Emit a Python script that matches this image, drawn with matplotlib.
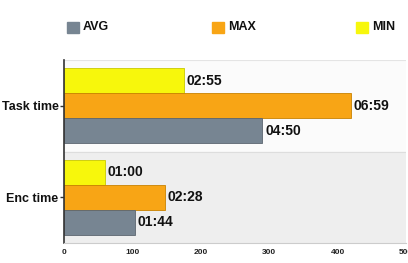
import matplotlib.pyplot as plt
import numpy as np

plt.rcParams['font.family'] = ['Liberation Sans', 'DejaVu Sans']

categories = ['Enc time', 'Task time']
avg_sec = [104, 290]
max_sec = [148, 419]
min_sec = [60, 175]
avg_labels = ['01:44', '04:50']
max_labels = ['02:28', '06:59']
min_labels = ['01:00', '02:55']
x_ticks = [0, 100, 200, 300, 400, 500]

fig = plt.figure(figsize=(4.08, 2.63), dpi=100)
ax = fig.add_axes([64 / 408, 20 / 263, 342 / 408, 183 / 263])

# alternating background bands
ax.axhspan(0.5, 1.5, color='#fbfbfb', zorder=0)
ax.axhspan(-0.5, 0.5, color='#eeeeee', zorder=0)
ax.axhline(0.5, color='#dddddd', linewidth=0.8, zorder=1)
ax.axhline(1.5, color='#e4e4e4', linewidth=0.8, zorder=1)

y = np.arange(len(categories))
h = 0.273

series = [
    (min_sec, min_labels, y + h, '#f7f70c', '#c9c900', 'MIN'),
    (max_sec, max_labels, y, '#f8a515', '#c98200', 'MAX'),
    (avg_sec, avg_labels, y - h, '#778592', '#5c6670', 'AVG'),
]

for vals, labels, pos, color, edge, name in series:
    ax.barh(pos, vals, height=h, color=color, edgecolor=edge,
            linewidth=0.6, zorder=2)
    for v, p, lab in zip(vals, pos, labels):
        ax.text(v + 4, p, lab, va='center', ha='left', fontsize=10,
                fontweight='bold', color='#111111', zorder=3)

ax.set_xlim(0, 500)
ax.set_ylim(-0.5, 1.5)
ax.set_yticks(y)
ax.set_yticklabels(categories, fontsize=9, fontweight='bold', color='#111111')
ax.set_xticks(x_ticks)
ax.set_xticklabels([str(t) for t in x_ticks], fontsize=6,
                   fontweight='bold', color='#222222')
ax.tick_params(axis='y', length=3, width=1, color='#333333', pad=1)
ax.tick_params(axis='x', length=0, pad=4)

for s in ['top', 'right']:
    ax.spines[s].set_visible(False)
ax.spines['left'].set_color('#333333')
ax.spines['left'].set_linewidth(1.2)
ax.spines['bottom'].set_color('#cccccc')
ax.spines['bottom'].set_linewidth(0.8)

# legend across the top
legend_items = [('AVG', '#778592', 67), ('MAX', '#f8a515', 212), ('MIN', '#f7f70c', 356)]
for name, color, px in legend_items:
    fig.patches.append(plt.Rectangle((px / 408, (263 - 33) / 263), 12 / 408, 11 / 263,
                                     transform=fig.transFigure, color=color,
                                     figure=fig))
    fig.text((px + 16) / 408, (263 - 27.5) / 263, name, fontsize=9,
             fontweight='bold', color='#111111', va='center', ha='left')

fig.savefig('out.png', dpi=100)
